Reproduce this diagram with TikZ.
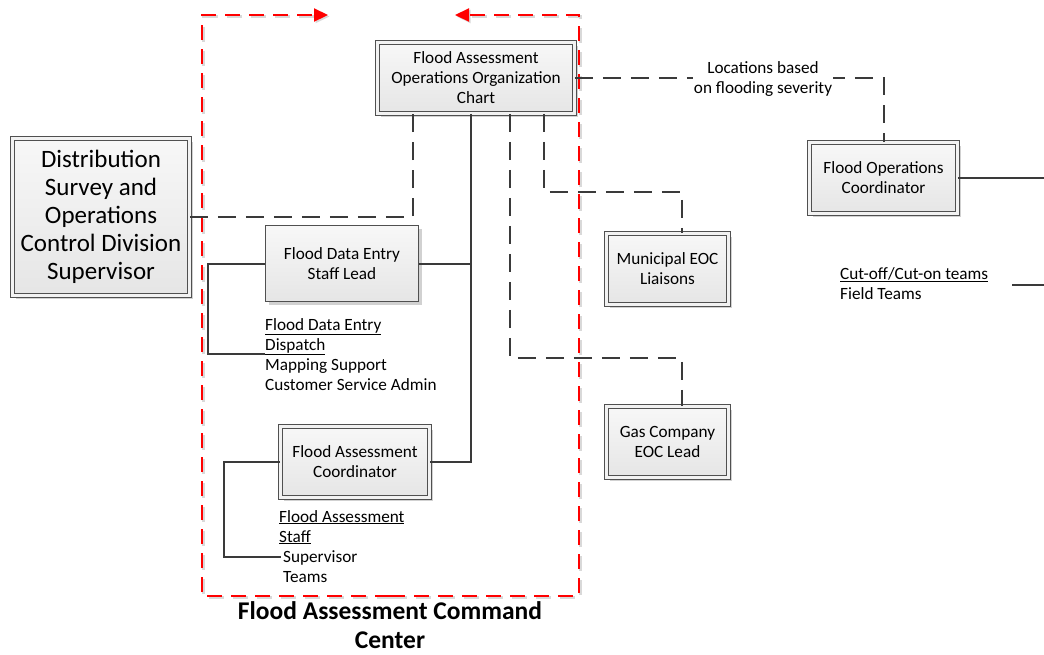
\documentclass[tikz,border=0pt]{standalone}
\usepackage{fontspec}
\setmainfont{Carlito}
\usetikzlibrary{shadows,arrows.meta,calc}

\definecolor{lineGray}{HTML}{3A3A3A}
\definecolor{edgeGray}{HTML}{505050}

\begin{document}
\begin{tikzpicture}[x=1pt,y=-1pt,
  small/.style={font=\fontsize{17.2}{20}\selectfont},
  box/.style={rectangle, draw=edgeGray, line width=0.9pt,
    top color=black!3, bottom color=black!10, inner sep=2pt, align=center, small,
    drop shadow={shadow xshift=3pt, shadow yshift=-3pt, fill=black!18, opacity=1}},
  dbox/.style={box, double=black!5, double distance=3pt},
  conn/.style={draw=lineGray, line width=2pt},
  dconn/.style={conn, dash pattern=on 18pt off 10pt},
  frame/.style={draw=red, line width=2.2pt, dash pattern=on 15pt off 9pt,
    -{Triangle[length=14pt,width=13pt]}},
  frameshadow/.style={draw=black!15, line width=2.2pt, dash pattern=on 15pt off 9pt,
    -{Triangle[length=14pt,width=13pt]}},
  note/.style={small, align=left, inner sep=0pt, anchor=north west}
]
\useasboundingbox (0,0) rectangle (1044,654);

% command-center frame (soft shadow first, then the red dashes)
\begin{scope}[shift={(1.5,1.5)}]
  \draw[frameshadow] (390,596) -| (202,15) -- (328,15);
  \draw[frameshadow] (390,596) -| (579,15) -- (455,15);
\end{scope}
\draw[frame] (390,596) -| (202,15) -- (328,15);
\draw[frame] (390,596) -| (579,15) -- (455,15);

% boxes
\node[dbox, minimum width=197pt, minimum height=71pt] (top) at (476,78)
  {Flood Assessment\\Operations Organization\\Chart};
\node[dbox, minimum width=177pt, minimum height=157pt,
  font=\fontsize{25}{28}\selectfont] (dist) at (101,217)
  {Distribution\\Survey and\\Operations\\Control Division\\Supervisor};
\node[box, minimum width=153pt, minimum height=76pt] (entry) at (342,263.5)
  {Flood Data Entry\\Staff Lead};
\node[dbox, minimum width=149pt, minimum height=71pt] (coord) at (355,462)
  {Flood Assessment\\Coordinator};
\node[dbox, minimum width=122pt, minimum height=71pt] (muni) at (667.5,269)
  {Municipal EOC\\Liaisons};
\node[dbox, minimum width=122pt, minimum height=71pt] (gas) at (667.5,442)
  {Gas Company\\EOC Lead};
\node[dbox, minimum width=148pt, minimum height=71pt] (ops) at (883.5,178)
  {Flood Operations\\Coordinator};

% staff lists
\node[note] (dispatch) at (265,318)
  {\underline{Flood Data Entry}\\\underline{Dispatch}\\Mapping Support\\Customer Service Admin};
\node[note] (staff) at (279,510)
  {\underline{Flood Assessment}\\\underline{Staff}\\\hspace{4pt}Supervisor\\\hspace{4pt}Teams};
\node[note] (field) at (840,267)
  {\underline{Cut-off/Cut-on teams}\\Field Teams};

\coordinate (dispL) at (265,354);
\coordinate (supL) at (281,557);
\coordinate (opsOut) at (1044,178);
\coordinate (fieldA) at (1012,285);
\coordinate (fieldB) at (1044,285);
\coordinate (trunk) at ([xshift=-5pt]top.south);

% solid reporting lines
\draw[conn] (trunk) |- (coord.east);
\draw[conn] (entry.east) -- (entry.east -| trunk);
\draw[conn] (entry.west) -- ++(-57,0) |- (dispL);
\draw[conn] (coord.west) -- ++(-56,0) |- (supL);
\draw[conn] (ops.east) -- (opsOut);
\draw[conn] (fieldA) -- (fieldB);

% dashed coordination lines
\draw[dconn] (dist.east) -| ([xshift=-63pt]top.south);
\draw[dconn] ([xshift=68pt]top.south) |- ([xshift=14.5pt,yshift=41pt]muni.north)
  -- ([xshift=14.5pt]muni.north);
\draw[dconn] ([xshift=34pt]top.south) |- ([xshift=14.5pt,yshift=48pt]gas.north)
  -- ([xshift=14.5pt]gas.north);
\draw[dconn] (top.east) -| (ops.north);
\node[small, fill=white, align=center, inner sep=1pt] (loc) at (763,79)
  {Locations based\\on flooding severity};

% title
\node[font=\fontsize{25.5}{29}\selectfont\bfseries, align=center] (title) at (390,625.5)
  {Flood Assessment Command\\Center};
\end{tikzpicture}
\end{document}
